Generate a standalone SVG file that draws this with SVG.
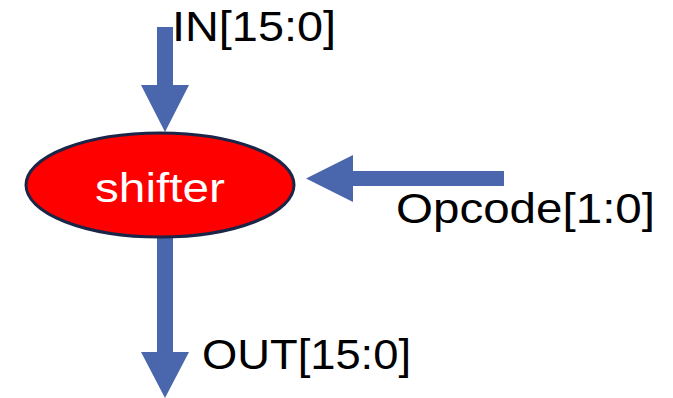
<svg xmlns="http://www.w3.org/2000/svg" width="673" height="398" viewBox="0 0 673 398">
  <style>
    .lbl { font-family: "Liberation Sans", Arial, sans-serif; font-size: 42px; fill: #000; }
    .arrow { fill: #4A66AC; stroke: none; }
    .node { fill: #FF0000; stroke: #1B2548; stroke-width: 3; }
    .nodetxt { font-family: "Liberation Sans", Arial, sans-serif; font-size: 41px; fill: #FFFFFF; text-anchor: middle; }
  </style>
  <rect width="673" height="398" fill="#FFFFFF"/>
  <g id="connectors">
    <path id="in-arrow" class="arrow" d="M157,27 H173 V85 H189 L165,132 L141,85 H157 Z"/>
    <path id="opcode-arrow" class="arrow" d="M504,171 V186 H353 V202 L306,178.5 L353,155 V171 Z"/>
    <path id="out-arrow" class="arrow" d="M157,237 H173 V352 H189 L165,398 L141,352 H157 Z"/>
  </g>
  <g id="shifter">
    <ellipse class="node" cx="160" cy="185" rx="134" ry="52"/>
    <text class="nodetxt" x="160" y="202" textLength="130" lengthAdjust="spacingAndGlyphs">shifter</text>
  </g>
  <g id="in-label">
    <text class="lbl" x="172" y="41" textLength="164" lengthAdjust="spacingAndGlyphs">IN[15:0]</text>
  </g>
  <g id="opcode-label">
    <text class="lbl" x="396" y="223" textLength="259" lengthAdjust="spacingAndGlyphs">Opcode[1:0]</text>
  </g>
  <g id="out-label">
    <text class="lbl" x="202" y="369" textLength="209" lengthAdjust="spacingAndGlyphs">OUT[15:0]</text>
  </g>
</svg>
